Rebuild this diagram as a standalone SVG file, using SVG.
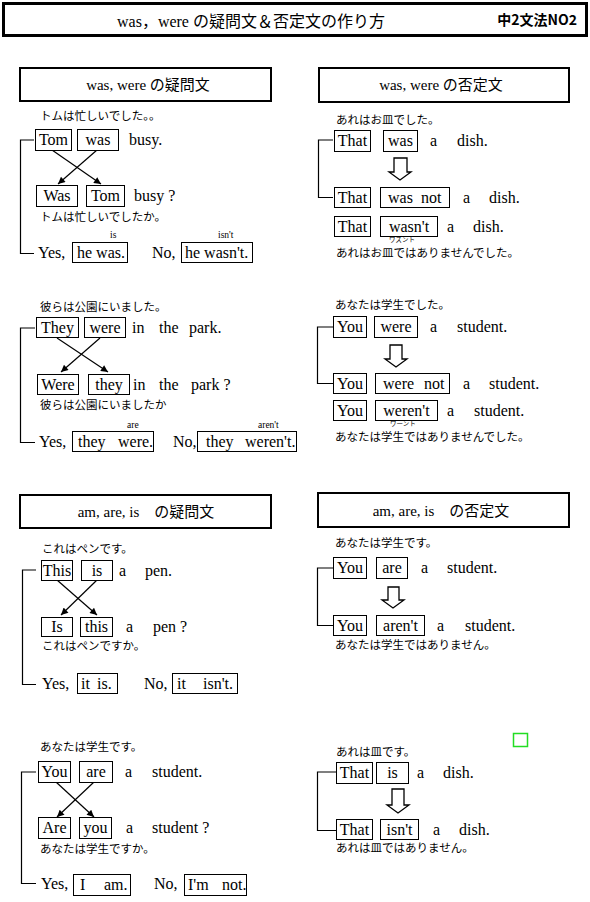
<svg xmlns="http://www.w3.org/2000/svg" width="590" height="902" viewBox="0 0 590 902">
<style>
.t{font-family:"Liberation Serif","Noto Sans CJK JP",serif;font-size:16px;fill:#000}
.m{text-anchor:middle}
.j{font-family:"Noto Sans CJK JP",sans-serif;font-size:11.5px;fill:#000}
.s{font-family:"Liberation Serif",serif;font-size:9.5px;fill:#000}
.k{font-family:"Noto Sans CJK JP",sans-serif;font-size:6.5px;fill:#000}
.hd{font-family:"Liberation Serif","Noto Sans CJK JP",serif;font-size:15px;fill:#000;text-anchor:middle}
.b{fill:#fff;stroke:#000;stroke-width:1}
.h{fill:#fff;stroke:#000;stroke-width:2}
.c{fill:none;stroke:#000;stroke-width:1.2}
.x{fill:none;stroke:#000;stroke-width:1.2;marker-end:url(#ah)}
.d{fill:#fff;stroke:#000;stroke-width:1.3}
</style>
<defs>
<marker id="ah" viewBox="0 0 10 10" refX="10" refY="5" markerWidth="9" markerHeight="7" markerUnits="userSpaceOnUse" orient="auto">
<path d="M0,0 L10,5 L0,10 z" fill="#000"/>
</marker>
</defs>
<rect width="590" height="902" fill="#fff"/>

<g id="title">
<rect x="3.5" y="3.5" width="583" height="32" fill="#fff" stroke="#000" stroke-width="3"/>
<text x="251" y="27" class="t m" font-size="21.5">was，were の疑問文＆否定文の作り方</text>
<text x="577" y="25" font-family="'Noto Sans CJK JP',sans-serif" font-size="14" font-weight="bold" text-anchor="end">中2文法NO2</text>
</g>

<g id="connectors">
<path class="c" d="M34,140 H20.5 V253.5 H34"/>
<line class="x" x1="52" y1="150" x2="101" y2="184"/>
<line class="x" x1="97" y1="150" x2="58" y2="184"/>
<path class="c" d="M333,140 H318.5 V197.5 H333"/>
<polygon class="d" points="394,158 407,158 407,172 411,172 400,180 389,172 394,172"/>
<path class="c" d="M35,328 H20.5 V442.5 H35"/>
<line class="x" x1="57" y1="338" x2="108" y2="372"/>
<line class="x" x1="100" y1="338" x2="61" y2="372"/>
<path class="c" d="M333,327 H317.5 V383.5 H333"/>
<polygon class="d" points="390,345 402,345 402,359 407,359 396,367 385,359 390,359"/>
<path class="c" d="M36,570 H22.5 V684.5 H36"/>
<line class="x" x1="57" y1="580" x2="97" y2="615"/>
<line class="x" x1="97" y1="580" x2="61" y2="615"/>
<path class="c" d="M333,568 H317.5 V625.5 H333"/>
<polygon class="d" points="388,587 399,587 399,600 404,600 393,608 382,600 388,600"/>
<path class="c" d="M36,772 H21.5 V883.5 H36"/>
<line class="x" x1="56" y1="782" x2="94" y2="817"/>
<line class="x" x1="94" y1="782" x2="57" y2="817"/>
<path class="c" d="M336,772 H317.5 V830.5 H336"/>
<polygon class="d" points="392,789 404,789 404,805 409,805 398,813 387,805 392,805"/>
</g>

<g id="sec-was-question">
<rect class="h" x="20" y="68" width="251" height="33"/>
<text class="hd" x="148" y="90">was, were の疑問文</text>
<text class="j" x="40" y="120">トムは忙しいでした。。</text>
<g id="q1-s1">
<rect class="b" x="35.5" y="129.5" width="36" height="21"/><text class="t m" x="53.5" y="145">Tom</text>
<rect class="b" x="77.5" y="129.5" width="41" height="21"/><text class="t m" x="98" y="145">was</text>
<text class="t" x="129" y="145">busy.</text>
</g>
<g id="q1-s2">
<rect class="b" x="36.5" y="185.5" width="41" height="21"/><text class="t m" x="57" y="201">Was</text>
<rect class="b" x="86.5" y="185.5" width="38" height="21"/><text class="t m" x="105.5" y="201">Tom</text>
<text class="t" x="134" y="201">busy ?</text>
</g>
<text class="j" x="40" y="221">トムは忙しいでしたか。</text>
<g id="q1-ans">
<text class="s" x="110" y="238">is</text>
<text class="s" x="218" y="238">isn't</text>
<text class="t" x="38" y="258">Yes,</text>
<rect class="b" x="72.5" y="242.5" width="55" height="20"/><text class="t" x="77" y="258">he was.</text>
<text class="t" x="152" y="258">No,</text>
<rect class="b" x="181.5" y="242.5" width="71" height="20"/><text class="t" x="185" y="258">he wasn't.</text>
</g>
</g>

<g id="sec-was-negative">
<rect class="h" x="319" y="68" width="250" height="34"/>
<text class="hd" x="441" y="90">was, were の否定文</text>
<text class="j" x="336" y="124">あれはお皿でした。</text>
<g id="n1-s1">
<rect class="b" x="334.5" y="130.5" width="36" height="21"/><text class="t m" x="352.5" y="146">That</text>
<rect class="b" x="383.5" y="130.5" width="34" height="21"/><text class="t m" x="400.5" y="146">was</text>
<text class="t" x="430" y="146">a</text><text class="t" x="457" y="146">dish.</text>
</g>
<g id="n1-s2">
<rect class="b" x="334.5" y="187.5" width="36" height="20"/><text class="t m" x="352.5" y="203">That</text>
<rect class="b" x="380.5" y="187.5" width="69" height="20"/><text class="t" x="388" y="203">was</text><text class="t" x="421" y="203">not</text>
<text class="t" x="463" y="203">a</text><text class="t" x="489" y="203">dish.</text>
</g>
<g id="n1-s3">
<rect class="b" x="334.5" y="216.5" width="36" height="20"/><text class="t m" x="352.5" y="232">That</text>
<rect class="b" x="380.5" y="216.5" width="57" height="20"/><text class="t m" x="409" y="232">wasn't</text>
<text class="t" x="447" y="232">a</text><text class="t" x="473" y="232">dish.</text>
</g>
<text class="k" x="389" y="242">ワズント</text>
<text class="j" x="336" y="257">あれはお皿ではありませんでした。</text>
</g>

<g id="sec-were-question">
<text class="j" x="40" y="311">彼らは公園にいました。</text>
<g id="q2-s1">
<rect class="b" x="36.5" y="317.5" width="42" height="20"/><text class="t m" x="57.5" y="333">They</text>
<rect class="b" x="84.5" y="317.5" width="41" height="20"/><text class="t m" x="105" y="333">were</text>
<text class="t" x="132" y="333">in</text><text class="t" x="159" y="333">the</text><text class="t" x="189" y="333">park.</text>
</g>
<g id="q2-s2">
<rect class="b" x="37.5" y="374.5" width="41" height="20"/><text class="t m" x="58" y="390">Were</text>
<rect class="b" x="88.5" y="374.5" width="41" height="20"/><text class="t m" x="109" y="390">they</text>
<text class="t" x="133" y="390">in</text><text class="t" x="159" y="390">the</text><text class="t" x="191" y="390">park ?</text>
</g>
<text class="j" x="40" y="409">彼らは公園にいましたか</text>
<g id="q2-ans">
<text class="s" x="127" y="428">are</text>
<text class="s" x="258" y="428">aren't</text>
<text class="t" x="39" y="447">Yes,</text>
<rect class="b" x="72.5" y="431.5" width="81" height="20"/><text class="t" x="78" y="447">they</text><text class="t" x="118" y="447">were.</text>
<text class="t" x="173" y="447">No,</text>
<rect class="b" x="197.5" y="431.5" width="99" height="20"/><text class="t" x="206" y="447">they</text><text class="t" x="245" y="447">weren't.</text>
</g>
</g>

<g id="sec-were-negative">
<text class="j" x="335" y="309">あなたは学生でした。</text>
<g id="n2-s1">
<rect class="b" x="333.5" y="316.5" width="33" height="21"/><text class="t m" x="350" y="332">You</text>
<rect class="b" x="374.5" y="316.5" width="43" height="21"/><text class="t m" x="396" y="332">were</text>
<text class="t" x="430" y="332">a</text><text class="t" x="457" y="332">student.</text>
</g>
<g id="n2-s2">
<rect class="b" x="333.5" y="373.5" width="33" height="20"/><text class="t m" x="350" y="389">You</text>
<rect class="b" x="375.5" y="373.5" width="74" height="20"/><text class="t" x="383" y="389">were</text><text class="t" x="424" y="389">not</text>
<text class="t" x="463" y="389">a</text><text class="t" x="489" y="389">student.</text>
</g>
<g id="n2-s3">
<rect class="b" x="333.5" y="400.5" width="33" height="20"/><text class="t m" x="350" y="416">You</text>
<rect class="b" x="375.5" y="400.5" width="62" height="20"/><text class="t m" x="406.5" y="416">weren't</text>
<text class="t" x="447" y="416">a</text><text class="t" x="474" y="416">student.</text>
</g>
<text class="k" x="390" y="426" font-size="6">ワーント</text>
<text class="j" x="335" y="440.5">あなたは学生ではありませんでした。</text>
</g>

<g id="sec-be-question">
<rect class="h" x="20" y="495" width="251" height="33"/>
<text class="hd" x="146" y="517">am, are, is　の疑問文</text>
<text class="j" x="42" y="553">これはペンです。</text>
<g id="q3-s1">
<rect class="b" x="41.5" y="560.5" width="31" height="20"/><text class="t m" x="57" y="576">This</text>
<rect class="b" x="81.5" y="560.5" width="31" height="20"/><text class="t m" x="97" y="576">is</text>
<text class="t" x="119" y="576">a</text><text class="t" x="145" y="576">pen.</text>
</g>
<g id="q3-s2">
<rect class="b" x="41.5" y="617.5" width="31" height="19"/><text class="t m" x="57" y="632">Is</text>
<rect class="b" x="80.5" y="617.5" width="32" height="19"/><text class="t m" x="96.5" y="632">this</text>
<text class="t" x="126" y="632">a</text><text class="t" x="153" y="632">pen ?</text>
</g>
<text class="j" x="42" y="650">これはペンですか。</text>
<g id="q3-ans">
<text class="t" x="42" y="689">Yes,</text>
<rect class="b" x="77.5" y="673.5" width="40" height="20"/><text class="t" x="81" y="689">it</text><text class="t" x="97" y="689">is.</text>
<text class="t" x="144" y="689">No,</text>
<rect class="b" x="172.5" y="673.5" width="65" height="20"/><text class="t" x="177" y="689">it</text><text class="t" x="203" y="689">isn't.</text>
</g>
</g>

<g id="sec-be-negative">
<rect class="h" x="318" y="493" width="251" height="34"/>
<text class="hd" x="441" y="516">am, are, is　の否定文</text>
<text class="j" x="335" y="547">あなたは学生です。</text>
<g id="n3-s1">
<rect class="b" x="333.5" y="557.5" width="33" height="21"/><text class="t m" x="350" y="573">You</text>
<rect class="b" x="376.5" y="557.5" width="31" height="21"/><text class="t m" x="392" y="573">are</text>
<text class="t" x="421" y="573">a</text><text class="t" x="447" y="573">student.</text>
</g>
<g id="n3-s2">
<rect class="b" x="333.5" y="615.5" width="33" height="20"/><text class="t m" x="350" y="631">You</text>
<rect class="b" x="376.5" y="615.5" width="48" height="20"/><text class="t m" x="400.5" y="631">aren't</text>
<text class="t" x="437" y="631">a</text><text class="t" x="465" y="631">student.</text>
</g>
<text class="j" x="335" y="649">あなたは学生ではありません。</text>
</g>

<g id="sec-are-question">
<text class="j" x="40" y="751">あなたは学生です。</text>
<g id="q4-s1">
<rect class="b" x="38.5" y="761.5" width="32" height="21"/><text class="t m" x="54.5" y="777">You</text>
<rect class="b" x="79.5" y="761.5" width="33" height="21"/><text class="t m" x="96" y="777">are</text>
<text class="t" x="125" y="777">a</text><text class="t" x="152" y="777">student.</text>
</g>
<g id="q4-s2">
<rect class="b" x="38.5" y="817.5" width="32" height="21"/><text class="t m" x="54.5" y="833">Are</text>
<rect class="b" x="79.5" y="817.5" width="32" height="21"/><text class="t m" x="95.5" y="833">you</text>
<text class="t" x="126" y="833">a</text><text class="t" x="152" y="833">student ?</text>
</g>
<text class="j" x="40" y="853">あなたは学生ですか。</text>
<g id="q4-ans">
<text class="t" x="41" y="889">Yes,</text>
<rect class="b" x="73.5" y="874.5" width="57" height="21"/><text class="t" x="80" y="890">I</text><text class="t" x="104" y="890">am.</text>
<text class="t" x="154" y="889">No,</text>
<rect class="b" x="184.5" y="874.5" width="62" height="21"/><text class="t" x="188" y="890">I'm</text><text class="t" x="222" y="890">not.</text>
</g>
</g>

<g id="sec-is-negative">
<rect id="marker-square" x="513.5" y="733.5" width="14" height="13" fill="none" stroke="#22dd22" stroke-width="1.5"/>
<text class="j" x="336" y="756">あれは皿です。</text>
<g id="n4-s1">
<rect class="b" x="336.5" y="762.5" width="36" height="21"/><text class="t m" x="354.5" y="778">That</text>
<rect class="b" x="376.5" y="762.5" width="32" height="21"/><text class="t m" x="392.5" y="778">is</text>
<text class="t" x="417" y="778">a</text><text class="t" x="443" y="778">dish.</text>
</g>
<g id="n4-s2">
<rect class="b" x="336.5" y="819.5" width="36" height="20"/><text class="t m" x="354.5" y="835">That</text>
<rect class="b" x="380.5" y="819.5" width="38" height="20"/><text class="t m" x="399.5" y="835">isn't</text>
<text class="t" x="433" y="835">a</text><text class="t" x="459" y="835">dish.</text>
</g>
<text class="j" x="336" y="852">あれは皿ではありません。</text>
</g>
</svg>
